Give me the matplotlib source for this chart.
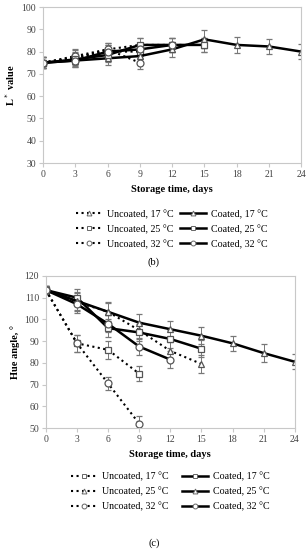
import numpy as np
import matplotlib
matplotlib.use("Agg")
import matplotlib.pyplot as plt
from matplotlib.lines import Line2D

plt.rcParams['font.family'] = ['Liberation Serif', 'DejaVu Serif']

# -----------------------------
# Data
# -----------------------------
days_ticks = [0, 3, 6, 9, 12, 15, 18, 21, 24]
labels = ['Uncoated, 17 \u00b0C', 'Uncoated, 25 \u00b0C', 'Uncoated, 32 \u00b0C',
          'Coated, 17 \u00b0C', 'Coated, 25 \u00b0C', 'Coated, 32 \u00b0C']

# (b) L* value
L_u17_days = [0, 3, 6, 9, 12, 15]
L_u17 = [75, 77, 81, 83, 83, 83]
L_u17_err = [2.5, 3, 3, 3, 3, 3]
L_u25_days = [0, 3, 6, 9]
L_u25 = [75, 77.5, 80, 80]
L_u25_err = [2.5, 3, 3, 3]
L_u32_days = [0, 3, 6, 9]
L_u32 = [75, 78, 81, 75]
L_u32_err = [2.5, 3, 3, 3]
L_c17_days = [0, 3, 6, 9, 12, 15, 18, 21, 24]
L_c17 = [75, 76, 77, 78, 81, 85.5, 83, 82.3, 80]
L_c17_err = [2.5, 3, 3, 3, 3.5, 4, 3.5, 3.5, 3.5]
L_c25_days = [0, 3, 6, 9, 12, 15]
L_c25 = [75, 76.5, 78.5, 83, 83, 83]
L_c25_err = [2.5, 3, 3, 3, 3, 3]
L_c32_days = [0, 3, 6, 9, 12]
L_c32 = [75, 76, 80, 81, 83]
L_c32_err = [2.5, 3, 3, 3, 3]

# (c) Hue angle
H_u17_days = [0, 3, 6, 9]
H_u17 = [113.5, 89, 86, 75]
H_u17_err = [2, 4, 4, 3.5]
H_u25_days = [0, 3, 6, 9, 12, 15]
H_u25 = [113.5, 108, 103.5, 95, 85.5, 79.5]
H_u25_err = [2, 4, 4, 4, 4, 4]
H_u32_days = [0, 3, 6, 9]
H_u32 = [113.5, 89, 70.5, 52]
H_u32_err = [2, 4, 3, 3.5]
H_c17_days = [0, 3, 6, 9, 12, 15]
H_c17 = [113.5, 110, 96, 94, 91, 86.5]
H_c17_err = [2, 4, 4, 4, 4, 4]
H_c25_days = [0, 3, 6, 9, 12, 15, 18, 21, 24]
H_c25 = [113.5, 108.5, 103.5, 98.5, 95.5, 92.5, 89, 84.5, 80.5]
H_c25_err = [2, 4, 4.5, 4, 4, 4, 3.5, 4, 3.5]
H_c32_days = [0, 3, 6, 9, 12]
H_c32 = [113.5, 107, 98, 87.5, 81.5]
H_c32_err = [2, 4, 4, 4, 4]

fig = plt.figure(figsize=(3.08, 5.50), dpi=100)

def style_axes(ax, ylim, yticks):
    ax.set_xlim(0, 24)
    ax.set_ylim(*ylim)
    ax.set_xticks(days_ticks)
    ax.set_yticks(yticks)
    for s in ax.spines.values():
        s.set_color('#c8c8c8')
        s.set_linewidth(0.8)
    ax.tick_params(axis='both', labelsize=7, color='#c8c8c8', length=3,
                   width=0.8, pad=2, labelcolor='#444444')
    ax.set_xlabel('Storage time, days', fontsize=7.5, fontweight='bold', labelpad=4)

def draw(ax, days, vals, err, ls, marker):
    ax.errorbar(days, vals, yerr=err, color='black', ls=ls,
                lw=1.8 if ls == '-' else 1.5,
                marker=marker, ms=5, mfc='white', mec='#555555', mew=0.9,
                ecolor='#777777', elinewidth=0.7, capsize=2, capthick=0.7)

def add_legend(ax, markers, y, colspace):
    handles = []
    for i, m in enumerate(markers):
        ls = ':' if i < 3 else '-'
        handles.append(Line2D([], [], color='black', ls=ls,
                              lw=1.8 if ls == '-' else 1.5,
                              marker=m, ms=3.5, mfc='white', mec='#666666', mew=0.7))
    ax.legend(handles, labels, loc='upper center', bbox_to_anchor=(0.5, y), ncol=2,
              frameon=False, fontsize=7.2, handlelength=2.6, handletextpad=0.5,
              columnspacing=colspace, labelspacing=0.55)

# -----------------------------
# (b) L* value
# -----------------------------
ax1 = fig.add_axes([0.140, 0.7036, 0.838, 0.2836])
draw(ax1, L_u17_days, L_u17, L_u17_err, ':', '^')
draw(ax1, L_u25_days, L_u25, L_u25_err, ':', 's')
draw(ax1, L_u32_days, L_u32, L_u32_err, ':', 'o')
draw(ax1, L_c17_days, L_c17, L_c17_err, '-', '^')
draw(ax1, L_c25_days, L_c25, L_c25_err, '-', 's')
draw(ax1, L_c32_days, L_c32, L_c32_err, '-', 'o')
style_axes(ax1, (30, 100), range(30, 101, 10))
ax1.set_ylabel('L$^*$ value', fontsize=7.5, fontweight='bold', labelpad=3)
add_legend(ax1, ['^', 's', 'o', '^', 's', 'o'], -0.24, 0.6)
fig.text(0.5, 1 - 262 / 550, '(b)', ha='center', va='center', fontsize=7.5)

# -----------------------------
# (c) Hue angle
# -----------------------------
ax2 = fig.add_axes([0.149, 0.2218, 0.808, 0.2764])
draw(ax2, H_u17_days, H_u17, H_u17_err, ':', 's')
draw(ax2, H_u25_days, H_u25, H_u25_err, ':', '^')
draw(ax2, H_u32_days, H_u32, H_u32_err, ':', 'o')
draw(ax2, H_c17_days, H_c17, H_c17_err, '-', 's')
draw(ax2, H_c25_days, H_c25, H_c25_err, '-', '^')
draw(ax2, H_c32_days, H_c32, H_c32_err, '-', 'o')
style_axes(ax2, (50, 120), range(50, 121, 10))
ax2.set_ylabel('Hue angle, \u00b0', fontsize=7.5, fontweight='bold', labelpad=3)
add_legend(ax2, ['s', '^', 'o', 's', '^', 'o'], -0.23, 1.4)
fig.text(0.5, 1 - 543 / 550, '(c)', ha='center', va='center', fontsize=7.5)

fig.savefig('out.png', dpi=100)
